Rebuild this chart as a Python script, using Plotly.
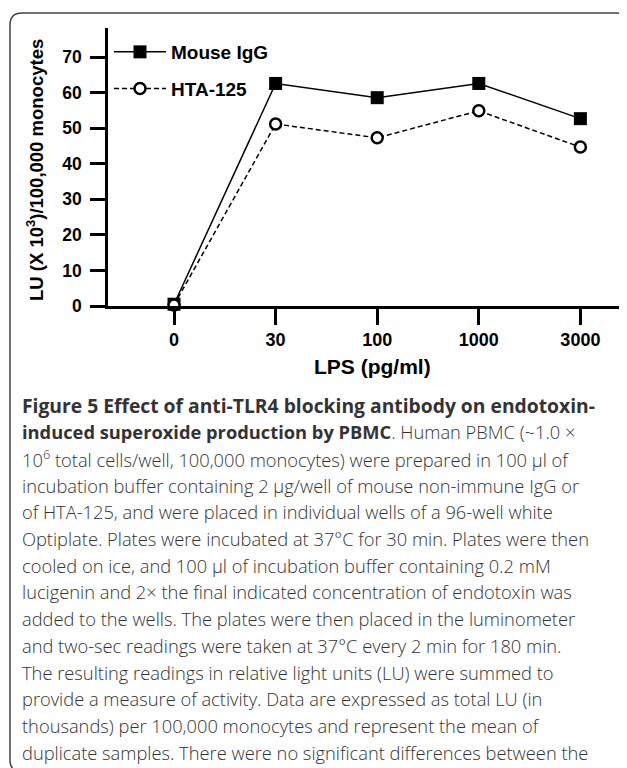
import plotly.graph_objects as go

# ---- data ----
lps_labels = ["0", "30", "100", "1000", "3000"]
mouse_igg = [0.5, 62.6, 58.6, 62.6, 52.7]
hta_125 = [0.3, 51.2, 47.3, 54.9, 44.7]
y_ticks = [0, 10, 20, 30, 40, 50, 60, 70]

caption_lines = [
    "<b>Figure 5 Effect of anti-TLR4 blocking antibody on endotoxin-</b>",
    "<b>induced superoxide production by PBMC</b>. Human PBMC (~1.0 ×",
    "10<sup>6</sup> total cells/well, 100,000 monocytes) were prepared in 100 µl of",
    "incubation buffer containing 2 µg/well of mouse non-immune IgG or",
    "of HTA-125, and were placed in individual wells of a 96-well white",
    "Optiplate. Plates were incubated at 37°C for 30 min. Plates were then",
    "cooled on ice, and 100 µl of incubation buffer containing 0.2 mM",
    "lucigenin and 2× the final indicated concentration of endotoxin was",
    "added to the wells. The plates were then placed in the luminometer",
    "and two-sec readings were taken at 37°C every 2 min for 180 min.",
    "The resulting readings in relative light units (LU) were summed to",
    "provide a measure of activity. Data are expressed as total LU (in",
    "thousands) per 100,000 monocytes and represent the mean of",
    "duplicate samples. There were no significant differences between the",
]

# ---- layout geometry (screen pixels) ----
OFF = 8                      # page body margin
FW, FH = 627 - OFF, 768 - OFF
PL, PR, PT, PB = 108, 620, 28, 306
W, H = PR - PL, PB - PT


def px(x):
    return (x - PL) / W


def py(y):
    return (PB - y) / H


CHART_FONT = "Arial, Liberation Sans, sans-serif"
CAP_FONT = "Open Sans, Noto Sans, sans-serif"

fig = go.Figure()
fig.add_trace(go.Scatter(
    x=lps_labels, y=mouse_igg, name="Mouse IgG", mode="lines+markers",
    line=dict(color="black", width=1.5),
    marker=dict(symbol="square", size=13, color="black"),
    cliponaxis=False, legendgroup="a",
))
fig.add_trace(go.Scatter(
    x=lps_labels, y=hta_125, name="HTA-125", mode="lines+markers",
    line=dict(color="black", width=1.5, dash="5px,3px"),
    marker=dict(symbol="circle", size=11, color="white",
                line=dict(color="black", width=2.5)),
    cliponaxis=False, legendgroup="b",
))

annotations = []
annotations.append(dict(
    x=px(35), y=py(170), xref="paper", yref="paper",
    text="<b>LU (X 10<sup>3</sup>)/100,000 monocytes</b>", textangle=-90,
    showarrow=False, xanchor="center", yanchor="middle",
    font=dict(family=CHART_FONT, size=18.5, color="black"),
))
annotations.append(dict(
    x=px(372), y=py(366), xref="paper", yref="paper",
    text="<b>LPS (pg/ml)</b>", showarrow=False,
    xanchor="center", yanchor="middle",
    font=dict(family=CHART_FONT, size=21, color="black"),
))
for i, line in enumerate(caption_lines):
    annotations.append(dict(
        x=px(20), y=py(405 + i * 26.7), xref="paper", yref="paper",
        text=line, showarrow=False, xanchor="left", yanchor="middle",
        font=dict(family=CAP_FONT, size=19.3 if i == 0 else 18.3,
                  color="#333333", weight=300),
    ))

border = (
    f"M {px(22)},{py(772)} Q {px(10)},{py(772)} {px(10)},{py(760)} "
    f"L {px(10)},{py(25)} Q {px(10)},{py(13)} {px(22)},{py(13)} "
    f"L {px(616)},{py(13)} Q {px(628)},{py(13)} {px(628)},{py(25)} "
    f"L {px(628)},{py(790)}"
)

fig.update_layout(
    width=FW, height=FH, autosize=False,
    margin=dict(l=PL - OFF, r=FW - (PR - OFF), t=PT - OFF,
                b=FH - (PB - OFF), pad=0),
    paper_bgcolor="white", plot_bgcolor="white",
    showlegend=True,
    legend=dict(
        x=px(109), y=py(33), xanchor="left", yanchor="top",
        bgcolor="rgba(0,0,0,0)", borderwidth=0,
        font=dict(family=CHART_FONT, size=19, color="black", weight="bold"),
        itemwidth=52, tracegroupgap=9, traceorder="grouped",
    ),
    xaxis=dict(
        type="category", range=[-0.65, 4.39],
        showline=True, linecolor="black", linewidth=2.5,
        ticks="outside", ticklen=16, tickwidth=2.5, tickcolor="black",
        showgrid=False, zeroline=False,
        tickfont=dict(family=CHART_FONT, size=18, color="black", weight="bold"),
    ),
    yaxis=dict(
        range=[0, 78.2], tickvals=y_ticks,
        showline=True, linecolor="black", linewidth=2.5,
        ticks="outside", ticklen=15, tickwidth=2.5, tickcolor="black",
        showgrid=False, zeroline=False, ticklabelstandoff=5,
        tickfont=dict(family=CHART_FONT, size=17.5, color="black", weight="bold"),
    ),
    annotations=annotations,
    shapes=[dict(type="path", path=border, xref="paper", yref="paper",
                 line=dict(color="#444444", width=1.5), layer="above")],
)

fig.write_html("out.html")
